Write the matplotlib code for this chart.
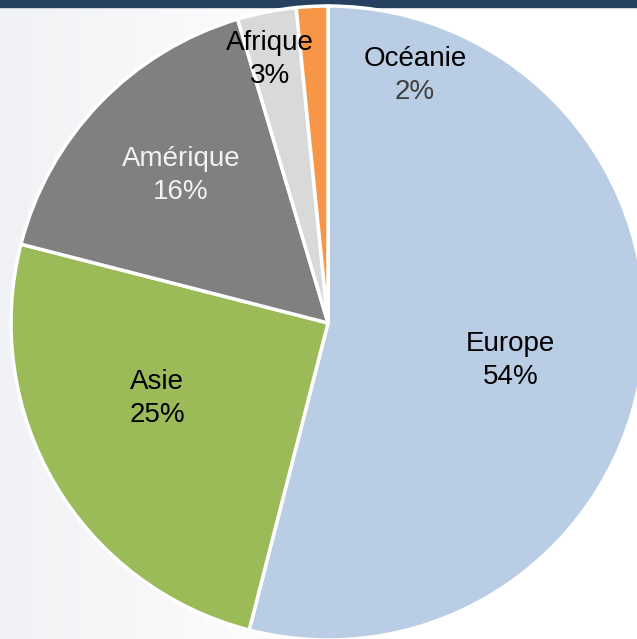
import numpy as np
import matplotlib
matplotlib.use("Agg")
import matplotlib.pyplot as plt

# %%
# part of each continent (%), clockwise from the top
continents = ["Europe", "Asie", "Amérique", "Afrique", "Océanie"]
shares = [54.0, 25.0, 16.4, 3.0, 1.6]
colors = ["#B9CDE5", "#9BBB59", "#808080", "#D9D9D9", "#F79646"]

# label placement (data coords) and text colours
label_pos = {
    "Europe": (0.576, -0.117),
    "Asie": (-0.539, -0.237),
    "Amérique": (-0.464, 0.464),
    "Afrique": (-0.183, 0.83),
    "Océanie": (0.274, 0.782),
}
name_color = {"Amérique": "#F2F2F2"}
pct_color = {"Amérique": "#F2F2F2", "Océanie": "#404040"}

plt.rcParams['font.family'] = ['Liberation Sans', 'DejaVu Sans']

W, H = 637, 639
fig = plt.figure(figsize=(W / 100, H / 100), dpi=100)

# background: light grey on the left fading to white
bg = fig.add_axes([0, 0, 1, 1])
grad = np.clip(np.linspace(0, 1, 256) / 0.5, 0, 1).reshape(1, -1)
cmap = matplotlib.colors.LinearSegmentedColormap.from_list("bg", ["#F1F2F5", "#F8F8FA", "#FFFFFF"])
bg.imshow(grad, aspect="auto", cmap=cmap, extent=[0, 1, 0, 1])
bg.set_axis_off()
# dark bar on top
bg.add_patch(plt.Rectangle((0, 1 - 7 / H), 1, 7 / H, color="#26405F", zorder=5))

cx, cy, r = 328, 323, 317
ax = fig.add_axes([(cx - r) / W, (H - cy - r) / H, 2 * r / W, 2 * r / H])
ax.pie(shares, colors=colors, startangle=90, counterclock=False, radius=1,
       wedgeprops=dict(edgecolor="white", linewidth=2.5))
ax.set_xlim(-1, 1)
ax.set_ylim(-1, 1)
ax.set_axis_off()

for name, val in zip(continents, shares):
    x, y = label_pos[name]
    ax.text(x, y + 0.052, name, ha="center", va="center", fontsize=20,
            color=name_color.get(name, "black"))
    ax.text(x, y - 0.052, "%d%%" % round(val), ha="center", va="center", fontsize=20,
            color=pct_color.get(name, "black"))

fig.savefig("out.png", dpi=100)
